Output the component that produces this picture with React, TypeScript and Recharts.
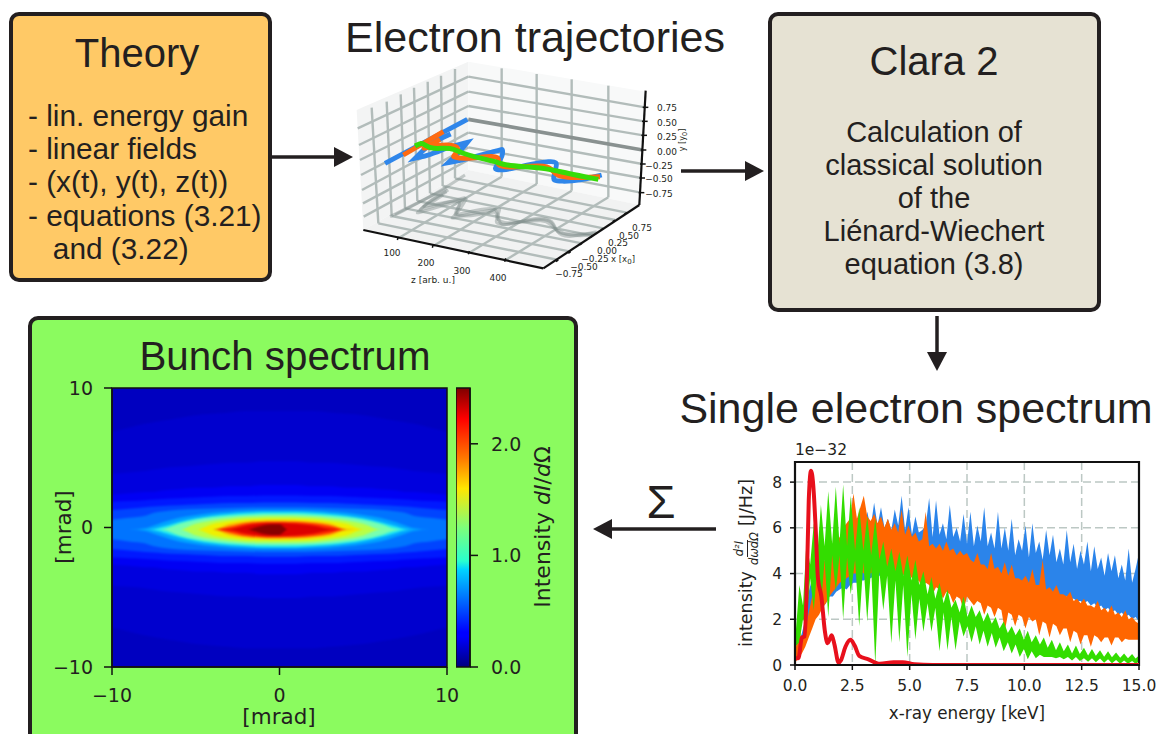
// App.tsx
import { Area, Bar, BarChart, CartesianGrid, ComposedChart, Line, ReferenceArea, XAxis, YAxis } from "recharts";

// ---- Single electron spectrum ----
const spectrumEnergy = [0, 0.15, 0.3, 0.45, 0.6, 0.75, 0.9, 1.05, 1.2, 1.35, 1.5, 1.65, 1.8, 1.95, 2.1, 2.25, 2.4, 2.55, 2.7, 2.85, 3, 3.15, 3.3, 3.45, 3.6, 3.75, 3.9, 4.05, 4.2, 4.35, 4.5, 4.65, 4.8, 4.95, 5.1, 5.25, 5.4, 5.55, 5.7, 5.85, 6, 6.15, 6.3, 6.45, 6.6, 6.75, 6.9, 7.05, 7.2, 7.35, 7.5, 7.65, 7.8, 7.95, 8.1, 8.25, 8.4, 8.55, 8.7, 8.85, 9, 9.15, 9.3, 9.45, 9.6, 9.75, 9.9, 10.05, 10.2, 10.35, 10.5, 10.65, 10.8, 10.95, 11.1, 11.25, 11.4, 11.55, 11.7, 11.85, 12, 12.15, 12.3, 12.45, 12.6, 12.75, 12.9, 13.05, 13.2, 13.35, 13.5, 13.65, 13.8, 13.95, 14.1, 14.25, 14.4, 14.55, 14.7, 14.85, 15];
const blueHigh = [0.5, 0.9, 1.4, 2, 3.2, 3.8, 3.4, 4, 3.8, 4.3, 4.6, 4.4, 4.9, 5, 5.2, 5.4, 5.5, 5.9, 5.7, 6.3,
    5.9, 6.7, 6, 7.1, 6.1, 6.9, 6, 6.4, 5.9, 6.8,
    6.1, 7.4, 5.9, 6.9, 5.7, 6.5, 5.8, 5.9, 6.1, 7.3,
    5.6, 7.2, 5.7, 6.2, 5.5, 7, 5.6, 6, 5.4, 6.6,
    5.3, 6.7, 5.2, 6.1, 5.4, 6.9, 5.2, 5.8, 5.1, 6.7,
    5.1, 6, 5, 6.4, 4.8, 5.5, 5, 6.1, 4.7, 6.2,
    4.9, 5.4, 4.6, 5.9, 4.8, 5.7, 4.5, 5.1, 4.4, 5.9,
    4.5, 5.3, 4.2, 5, 4.4, 5.4, 4.1, 5.2, 4.2, 4.7,
    3.9, 4.9, 4.1, 4.8, 3.8, 4.4, 3.7, 5.1, 3.6, 4.2, 4.9];
const blueLow = [0.2, 0.4, 0.7, 1, 1.9, 2, 2.2, 2.4, 2.5, 2.7, 3, 3, 3.2, 3.3, 3.4, 3.3, 3.5, 3.6, 3.6, 3.7, 3.7, 3.8, 3.8, 3.9, 3.9, 3.9, 3.9, 4, 3.9, 4, 3.9, 4, 3.9, 4, 3.9, 4, 3.9, 4, 3.9, 3.9, 3.9, 3.8, 3.8, 3.8, 3.7, 3.8, 3.7, 3.7, 3.6, 3.7, 3.6, 3.6, 3.5, 3.6, 3.5, 3.5, 3.4, 3.5, 3.4, 3.4, 3.4, 3.4, 3.3, 3.4, 3.3, 3.3, 3.2, 3.3, 3.2, 3.2, 3.1, 3.2, 3.1, 3.1, 3, 3.1, 3, 3, 2.9, 3, 2.9, 2.9, 2.8, 2.8, 2.7, 2.8, 2.6, 2.7, 2.5, 2.6, 2.4, 2.5, 2.3, 2.4, 2.2, 2.3, 2.1, 2.2, 2, 2.1, 1.9];
const orangeHigh = [0.3, 2, 0.9, 1.5, 2.3, 3, 3.9, 4.3, 4.4, 4.7, 5, 5.2, 5.4, 5.6, 6, 6.2, 6.4, 7.5, 6.4, 6.9, 7.4, 6.5, 6.3, 6.6, 6.2, 6.5, 6, 6.4, 5.9, 6.2, 5.8,
    6.8, 5.7, 6.1, 5.6, 5.8, 5.4, 5.5, 6.7, 5.2, 5.3,
    5.1, 5.3, 5, 5.4, 5, 5.1, 4.8, 5, 4.8, 4.9,
    4.6, 4.5, 4.9, 4.4, 4.4, 4.2, 4.9, 4.2, 4.3, 4,
    4.5, 3.9, 4.4, 3.8, 3.8, 3.7, 3.9, 3.6, 4.2, 3.5,
    3.5, 4.6, 3.3, 3.4, 3.2, 3.5, 3.1, 3.1, 3, 3.2,
    2.8, 2.9, 2.7, 2.9, 2.6, 2.6, 2.5, 2.8, 2.4, 2.5,
    2.3, 2.6, 2.2, 2.3, 2.1, 2.4, 2, 2.1, 1.9, 1.8];
const orangeLow = [0.1, 0.3, 0.5, 0.8, 1.2, 1.6, 2, 2.2, 2.5, 2.7, 3, 3.2, 3.4, 3.6, 3.7, 3.8, 3.9, 4, 4, 4.1, 4, 4.1, 4, 4.1, 4, 4.1, 4, 4.1, 4, 4, 4, 4, 3.9, 4, 3.8, 3.6, 3.7, 3.3, 3.6, 3.5, 3.1, 3.4, 3.3, 2.9, 3.2, 3.1, 2.7, 3, 2.9, 2.4, 3, 2.8, 2.6, 2.8, 2.7, 2.2, 2.6, 2.5, 2.1, 2.5, 2.4, 1.5, 2.3, 2.2, 1.7, 2.2, 2.1, 1.6, 2.1, 1.9, 2, 1.3, 1.9, 1.8, 1.2, 1.8, 1.7, 1.3, 1.6, 1.6, 1, 1.5, 1.4, 0.9, 1.3, 1.3, 0.8, 1.3, 1.2, 1, 1.2, 1.2, 0.85, 1.2, 1.2, 1, 1.15, 1.1, 1.1, 1.1, 1.1];

const greenEnergy = [0, 0.19, 0.35, 0.5, 0.66, 0.82, 0.98, 1.13, 1.29, 1.45, 1.62, 1.78, 1.94, 2.1, 2.27, 2.43, 2.62, 2.8, 2.98, 3.15, 3.32, 3.5, 3.68, 3.85, 4.02, 4.2, 4.38, 4.55, 4.72, 4.9, 5.08, 5.25, 5.42, 5.6, 5.78, 5.95, 6.12, 6.3, 6.48, 6.65, 6.82, 7, 7.18, 7.35, 7.52, 7.7, 7.88, 8.05, 8.22, 8.4, 8.58, 8.75, 8.92, 9.1, 9.28, 9.45, 9.62, 9.8, 9.98, 10.15, 10.32, 10.5, 10.68, 10.85, 11.02, 11.2, 11.38, 11.55, 11.72, 11.9, 12.08, 12.25, 12.42, 12.6, 12.78, 12.95, 13.12, 13.3, 13.48, 13.65, 13.82, 14, 14.18, 14.35, 14.52, 14.7, 14.85, 15];
const greenHigh = [1, 3.5, 2.6, 5.4, 4.4, 6.2, 4.9, 7, 5.2, 7.6, 5.3, 7.8, 5.3, 7.9, 5.2, 7.4, 5, 6.9, 5, 6.5, 4.8, 6.4, 4.6, 5.4, 4.3, 5.1, 4.1, 4.95, 3.9, 4.8, 3.7, 4.6, 3.5, 4.1, 3.1, 3.85, 2.9, 3.6, 2.7, 3.3, 2.5, 2.85, 2.3, 3, 2.1, 2.6, 2.1, 2.4, 1.9, 2.3, 1.8, 2.1, 1.6, 1.9, 1.4, 1.7, 1.3, 1.6, 1.1, 1.5, 1, 1.3, 0.9, 1.2, 0.75, 1.1, 0.65, 1, 0.6, 0.9, 0.5, 0.85, 0.48, 0.75, 0.42, 0.7, 0.4, 0.65, 0.36, 0.6, 0.34, 0.55, 0.32, 0.5, 0.3, 0.48, 0.28, 0.42];
const greenLow = [0.8, 1, 2, 1.7, 3.8, 2.4, 4.4, 2.5, 4.6, 2.1, 4.8, 3.2, 4.8, 2, 4.7, 3.1, 4.6, 1.7, 4.5, 1.9, 4.3, 0, 4.1, 2.4, 3.9, 0.95, 3.7, 1, 3.5, 0.35, 3.1, 1.1, 2.9, 1.45, 2.7, 1.45, 2.5, 0.6, 2.3, 0.65, 2.1, 0.65, 1.9, 1.25, 1.7, 1, 1.7, 0.9, 1.5, 0.8, 1.4, 0.75, 1.2, 0.6, 1, 0.5, 0.9, 0.35, 0.7, 0.25, 0.6, 0.3, 0.45, 0.35, 0.35, 0.35, 0.3, 0.35, 0.25, 0.35, 0.2, 0.35, 0.18, 0.3, 0.14, 0.3, 0.12, 0.28, 0.1, 0.25, 0.08, 0.22, 0.06, 0.2, 0.05, 0.18, 0.05, 0.15];

const redEnergy = [0, 0.15, 0.3, 0.42, 0.5, 0.6, 0.7, 0.8, 0.9, 1, 1.15, 1.3, 1.42, 1.5, 1.6, 1.72, 1.9, 2, 2.2, 2.42, 2.6, 2.8, 3.2, 3.7, 4.3, 4.7, 5.2, 6, 8, 15];
const redIntensity = [0.3, 0.3, 1.2, 1.25, 3, 7.2, 8.5, 7.8, 6, 3.8, 3, 1.5, 0.95, 1.1, 1.3, 0.9, 0.1, 0.2, 0.8, 1.1, 0.85, 0.4, 0.25, 0.05, 0.12, 0.12, 0.03, 0, 0, 0];

const spectrumRows = spectrumEnergy.map((energy, i) => ({ energy, blue: [blueLow[i], blueHigh[i]], orange: [orangeLow[i], orangeHigh[i]] }));
const greenRows = greenEnergy.map((energy, i) => ({ energy, green: [greenLow[i], greenHigh[i]] }));
const redRows = redEnergy.map((energy, i) => ({ energy, red: redIntensity[i] }));
const energyTicks = [0, 2.5, 5, 7.5, 10, 12.5, 15];
const intensityTicks = [0, 2, 4, 6, 8];

// ---- Bunch spectrum: half heights in mrad of each intensity contour ----
const heatAngle = [-10, -9, -8, -7.5, -7, -6, -5, -4, -3, -2, -1, -0.5, 0, 0.5, 1, 2, 3, 4, 5, 6, 7, 7.5, 8, 9, 10];
const heatCenter = -0.15;
const contourBg1 = [7, 7.3, 7.6, 7.7, 7.8, 8, 8.2, 8.3, 8.4, 8.5, 8.5, 8.5, 8.5, 8.5, 8.5, 8.5, 8.4, 8.3, 8.2, 8, 7.8, 7.7, 7.6, 7.3, 7];
const contourBg2 = [4, 4.1, 4.2, 4.3, 4.4, 4.5, 4.6, 4.7, 4.8, 4.8, 4.9, 4.9, 4.9, 4.9, 4.9, 4.8, 4.8, 4.7, 4.6, 4.5, 4.4, 4.3, 4.2, 4.1, 4];
const contourBlue1 = [2.5, 2.6, 2.7, 2.7, 2.8, 2.9, 3, 3, 3.1, 3.1, 3.2, 3.2, 3.2, 3.2, 3.2, 3.1, 3.1, 3, 3, 2.9, 2.8, 2.7, 2.7, 2.6, 2.5];
const contourBlue2 = [2, 2.05, 2.1, 2.15, 2.2, 2.25, 2.3, 2.35, 2.4, 2.4, 2.45, 2.45, 2.45, 2.45, 2.45, 2.4, 2.4, 2.35, 2.3, 2.25, 2.2, 2.15, 2.1, 2.05, 2];
const contourBlue3 = [1.4, 1.5, 1.6, 1.65, 1.7, 1.75, 1.8, 1.85, 1.9, 1.9, 1.95, 1.95, 1.95, 1.95, 1.95, 1.9, 1.9, 1.85, 1.8, 1.75, 1.7, 1.65, 1.6, 1.5, 1.4];
const contourBlue4 = [0.7, 0.85, 1, 1.2, 1.3, 1.42, 1.48, 1.52, 1.55, 1.58, 1.6, 1.6, 1.6, 1.6, 1.6, 1.58, 1.55, 1.52, 1.48, 1.42, 1.3, 1.2, 1, 0.85, 0.7];
const contourBlue5 = [0, 0, 0.1, 0.3, 0.5, 0.85, 1.05, 1.2, 1.3, 1.36, 1.4, 1.4, 1.4, 1.4, 1.4, 1.36, 1.3, 1.2, 1.05, 0.85, 0.5, 0.3, 0.1, 0, 0];
const contourCyan = [0, 0, 0, 0.04, 0.2, 0.55, 0.82, 1, 1.12, 1.2, 1.26, 1.27, 1.27, 1.27, 1.26, 1.2, 1.12, 1, 0.82, 0.55, 0.22, 0.04, 0, 0, 0];
const contourMint = [0, 0, 0, 0, 0.03, 0.42, 0.7, 0.88, 1, 1.07, 1.11, 1.12, 1.12, 1.12, 1.11, 1.07, 1, 0.88, 0.7, 0.42, 0.04, 0, 0, 0, 0];
const contourLime = [0, 0, 0, 0, 0, 0, 0.42, 0.66, 0.8, 0.9, 0.94, 0.95, 0.95, 0.95, 0.94, 0.9, 0.8, 0.66, 0.42, 0.02, 0, 0, 0, 0, 0];
const contourYellow = [0, 0, 0, 0, 0, 0, 0, 0.4, 0.6, 0.72, 0.77, 0.78, 0.78, 0.78, 0.77, 0.72, 0.6, 0.42, 0.02, 0, 0, 0, 0, 0, 0];
const contourOrange = [0, 0, 0, 0, 0, 0, 0, 0, 0.38, 0.56, 0.64, 0.66, 0.66, 0.66, 0.64, 0.56, 0.42, 0.04, 0, 0, 0, 0, 0, 0, 0];
const contourRed = [0, 0, 0, 0, 0, 0, 0, 0, 0.2, 0.46, 0.54, 0.56, 0.56, 0.55, 0.54, 0.46, 0.28, 0, 0, 0, 0, 0, 0, 0, 0];
const contourCrimson = [0, 0, 0, 0, 0, 0, 0, 0, 0.04, 0.3, 0.46, 0.48, 0.48, 0.46, 0.42, 0.3, 0.06, 0, 0, 0, 0, 0, 0, 0, 0];
const contourDark = [0, 0, 0, 0, 0, 0, 0, 0, 0, 0, 0.3, 0.38, 0.38, 0, 0, 0, 0, 0, 0, 0, 0, 0, 0, 0, 0];
const heatContours: [string, number[]][] = [
    ["#0000ce", contourBg1],
    ["#0000de", contourBg2],
    ["#0000f4", contourBlue1],
    ["#0018ff", contourBlue2],
    ["#0044ff", contourBlue3],
    ["#0074ff", contourBlue4],
    ["#00a4ff", contourBlue5],
    ["#22eaf0", contourCyan],
    ["#78ffb0", contourMint],
    ["#b8ff48", contourLime],
    ["#eef000", contourYellow],
    ["#ffa800", contourOrange],
    ["#ff3000", contourRed],
    ["#dc0000", contourCrimson],
    ["#880000", contourDark],
];
const heatRows = heatAngle.map((angle, i) => {
    const row: Record<string, any> = { angle };
    heatContours.forEach(([color, half]) => { row[color] = [heatCenter - half[i], heatCenter + half[i]]; });
    return row;
});
const angleTicks = [-10, 0, 10];
const colorbarRows = [{ name: "intensity", top: 2.5 }];
const colorbarTicks = [0, 1, 2];
const jetStops: [number, string][] = [[0, "#00007f"], [0.11, "#0000ff"], [0.125, "#0000ff"], [0.35, "#00d4ff"], [0.38, "#29ffce"], [0.5, "#7dff7a"], [0.64, "#ffe600"], [0.75, "#ff7700"], [0.89, "#ff0000"], [1, "#7f0000"]];

// ---- Electron trajectories: projected picture coordinates of the 3d plot ----
type P = [number, number];
const paneLeft: [number, number, number][] = [[50, 150, 150], [70, 141, 510], [385, 5, 330]];
const paneBack: [number, number, number][] = [[385, 5, 330], [900, 92, 435], [915, 95, 95]];
const paneFloor: [number, number, number][] = [[70, 510, 510], [385, 330, 577], [610, 376, 625], [900, 435, 435]];
const gridLeftVertical: P[][] = [[[95, 143], [115, 490]], [[140, 125], [155, 468]], [[182, 103], [195, 445]], [[222, 83], [232, 423]], [[263, 65], [270, 400]], [[303, 47], [308, 378]], [[345, 27], [345, 355]]];
const gridLeftHorizontal: P[][] = [[[53, 205], [385, 50]], [[57, 255], [385, 95]], [[60, 300], [385, 138]], [[63, 345], [385, 178]], [[66, 390], [385, 218]], [[69, 430], [385, 262]], [[71, 470], [385, 300]]];
const gridBackVertical: P[][] = [[[485, 25], [485, 350]], [[590, 42], [590, 372]], [[695, 58], [695, 392]], [[805, 77], [805, 412]]];
const gridBackHorizontal: P[][] = [[[385, 50], [915, 142]], [[385, 95], [912, 184]], [[385, 138], [910, 226]], [[385, 218], [907, 312]], [[385, 262], [905, 354]], [[385, 300], [903, 398]]];
const gridFloor: P[][] = [[[485, 350], [175, 535]], [[590, 372], [280, 558]], [[695, 392], [388, 578]], [[805, 412], [497, 600]], [[115, 490], [655, 600]], [[155, 468], [692, 575]], [[195, 445], [726, 550]], [[232, 423], [758, 527]], [[270, 400], [790, 505]], [[308, 378], [825, 480]], [[345, 355], [860, 458]]];
const projectedAxis: P[] = [[385, 178], [908, 270]];
const axes3d: P[][] = [[[917, 92], [898, 435]], [[70, 510], [610, 625]], [[610, 625], [898, 435]]];
const axisTicks3d: P[][] = [[[908, 142], [925, 142]], [[906, 184], [923, 184]], [[904, 226], [921, 226]], [[902, 270], [919, 270]], [[900, 312], [917, 312]], [[898, 354], [915, 354]], [[896, 398], [913, 398]], [[175, 530], [172, 540]], [[280, 553], [277, 563]], [[388, 573], [385, 583]], [[497, 595], [494, 605]], [[655, 600], [648, 605]], [[692, 575], [685, 580]], [[726, 550], [719, 555]], [[758, 527], [751, 532]], [[790, 505], [783, 510]], [[825, 480], [818, 485]], [[860, 458], [853, 463]]];

const blueDiagonal: P[] = [[135, 310], [382, 178]];
const blueTrack: P[] = [[332, 222], [270, 250], [225, 295], [225, 295], [225, 295], [270, 285], [330, 260], [382, 247], [382, 247], [382, 247], [355, 280], [325, 308], [325, 308], [325, 308], [380, 298], [470, 272], [487, 268], [487, 268], [490, 285], [465, 325], [465, 328], [490, 332], [560, 315], [635, 302], [650, 308], [650, 315], [640, 355], [640, 360], [660, 365], [720, 362], [785, 345]];
const orangeDiagonal: P[] = [[190, 285], [310, 215]];
const orangeTrack: P[] = [[300, 238], [250, 265], [250, 265], [295, 255], [345, 255], [358, 268], [340, 290], [340, 290], [370, 298], [470, 285], [478, 300], [470, 315], [500, 325], [630, 312], [640, 340], [670, 355], [780, 350]];
const greenTrack: P[] = [[225, 258], [245, 248], [255, 255], [275, 268], [335, 262], [360, 278], [420, 295], [470, 305], [490, 315], [550, 320], [620, 325], [680, 340], [775, 358]];
const shadowTracks: P[][] = [
    [[150, 470], [320, 385]],
    [[165, 465], [300, 395], [375, 345]],
    [[325, 390], [270, 420], [230, 460], [230, 460], [300, 440], [380, 415], [380, 415], [360, 450], [335, 475], [335, 475], [400, 460], [480, 445], [480, 445], [470, 480], [465, 490], [500, 495], [560, 480], [635, 475], [645, 510], [660, 525], [770, 520]],
    [[320, 395], [260, 430], [240, 450], [240, 450], [310, 430], [375, 412], [375, 412], [350, 445], [345, 465], [345, 465], [410, 450], [470, 440], [475, 470], [480, 500], [520, 490], [600, 470], [640, 480], [650, 520], [680, 535], [770, 515]],
    [[310, 405], [280, 425], [250, 440], [250, 440], [320, 425], [370, 420], [345, 460], [355, 470], [420, 465], [475, 450], [465, 475], [490, 490], [540, 488], [610, 478], [635, 495], [640, 505], [690, 530], [760, 525]],
];

const yTicks3d = [["0.75", 108], ["0.50", 123], ["0.25", 137], ["0.00", 152], ["\u22120.25", 166], ["\u22120.50", 179], ["\u22120.75", 194]];
const zTicks3d = [["100", 392, 253], ["200", 426, 263], ["300", 462, 271], ["400", 498, 278]];
const xTicks3d = [["0.75", 642, 228], ["0.50", 629, 236], ["0.25", 618, 243], ["0.00", 607, 251], ["\u22120.25", 595, 259], ["\u22120.50", 584, 267], ["\u22120.75", 569, 274]];

const theoryLines = ["- lin. energy gain", "- linear fields", "- (x(t), y(t), z(t))", "- equations (3.21)", "   and (3.22)"];
const claraLines = ["Calculation of", "classical solution", "of the", "Li\u00e9nard-Wiechert", "equation (3.8)"];

const SANS = "'Liberation Sans', Arial, sans-serif";
const DEJAVU = "'DejaVu Sans', sans-serif";
const INK = "#231f20";

function Txt({ x, y, size, font = SANS, rotate = 0, children }: any) {
    return (
        <div style={{
            position: "absolute", left: x, top: y, fontFamily: font, fontSize: size, color: INK, whiteSpace: "pre",
            lineHeight: 1, transform: `translate(-50%, -50%) rotate(${rotate}deg)`,
        }}>{children}</div>
    );
}

function Box({ left, top, width, height, fill }: any) {
    return <div style={{ position: "absolute", left, top, width, height, background: fill, border: `4px solid ${INK}`, borderRadius: 10, boxSizing: "border-box" }} />;
}

function Track({ points, stroke, width, curve = "linear", opacity = 1 }: any) {
    return (
        <Line data={points.map(([u, v]: P) => ({ u, v }))} dataKey="v" stroke={stroke} strokeWidth={width} strokeOpacity={opacity}
            type={curve} dot={false} activeDot={false} isAnimationActive={false} legendType="none" strokeLinecap="butt" />
    );
}

function Pane({ rows, fill }: any) {
    return (
        <Area data={rows.map(([u, a, b]: number[]) => ({ u, span: [a, b] }))} dataKey="span" type="linear" stroke="none" fill={fill} fillOpacity={1}
            dot={false} activeDot={false} isAnimationActive={false} />
    );
}

function Trajectories() {
    return (
        <div style={{ position: "absolute", left: 340, top: 60 }}>
            <ComposedChart width={340} height={240} margin={{ top: 0, right: 0, bottom: 0, left: 0 }}>
                <XAxis dataKey="u" type="number" domain={[0, 1020]} hide allowDuplicatedCategory />
                <YAxis type="number" domain={[0, 720]} reversed hide />
                {Pane({ rows: paneLeft, fill: "#f3f4f4" })}
                {Pane({ rows: paneBack, fill: "#f8f9f9" })}
                {Pane({ rows: paneFloor, fill: "#f1f2f2" })}
                {[...gridLeftVertical, ...gridLeftHorizontal, ...gridBackVertical, ...gridBackHorizontal, ...gridFloor].map((points, i) => (
                    <Track key={`g${i}`} points={points} stroke="#b2bcba" width={2.4} />
                ))}
                {shadowTracks.map((points, i) => (
                    <Track key={`s${i}`} points={points} stroke="#7f8c8a" width={3} curve="basis" opacity={0.42} />
                ))}
                <Track points={projectedAxis} stroke="#899190" width={3.8} />
                {axes3d.map((points, i) => <Track key={`a${i}`} points={points} stroke="#111111" width={2.2} />)}
                {axisTicks3d.map((points, i) => <Track key={`t${i}`} points={points} stroke="#111111" width={1.5} />)}
                <Track points={blueDiagonal} stroke="#2f86ea" width={4.8} />
                <Track points={blueTrack} stroke="#2f86ea" width={4.8} curve="basis" />
                <Track points={orangeDiagonal} stroke="#ff6a10" width={4.8} />
                <Track points={orangeTrack} stroke="#ff6a10" width={5} curve="basis" />
                <Track points={greenTrack} stroke="#36dc08" width={5} curve="basis" />
            </ComposedChart>
        </div>
    );
}

function BunchHeatmap() {
    return (
        <>
            <div style={{ position: "absolute", left: 112, top: 388, width: 335, height: 279, overflow: "hidden", background: "#0000c0" }}>
                <div style={{ filter: "blur(1px)" }}>
                    <ComposedChart width={335} height={279} data={heatRows} margin={{ top: 0, right: 0, bottom: 0, left: 0 }}>
                        <XAxis dataKey="angle" type="number" domain={[-10, 10]} hide allowDataOverflow />
                        <YAxis type="number" domain={[-10, 10]} hide allowDataOverflow />
                        {heatContours.map(([color]) => (
                            <Area key={color} dataKey={color} type="monotone" stroke="none" fill={color} fillOpacity={1}
                                dot={false} activeDot={false} isAnimationActive={false} />
                        ))}
                    </ComposedChart>
                </div>
            </div>
            <div style={{ position: "absolute", left: 50, top: 378 }}>
                <ComposedChart width={410} height={350} data={heatRows} margin={{ top: 10, right: 13, bottom: 0, left: 0 }}>
                    <XAxis dataKey="angle" type="number" domain={[-10, 10]} ticks={angleTicks} height={61} interval={0} allowDataOverflow
                        tickFormatter={(v) => String(v).replace("-", "\u2212")} tick={{ fill: INK, fontSize: 19, fontFamily: DEJAVU }}
                        tickSize={8} tickLine={{ stroke: "#111", strokeWidth: 1.5 }} axisLine={{ stroke: "#111", strokeWidth: 1.5 }} tickMargin={14} />
                    <YAxis type="number" domain={[-10, 10]} ticks={angleTicks} width={62} interval={0} allowDataOverflow
                        tickFormatter={(v) => String(v).replace("-", "\u2212")} tick={{ fill: INK, fontSize: 19, fontFamily: DEJAVU }}
                        tickSize={8} tickLine={{ stroke: "#111", strokeWidth: 1.5 }} axisLine={{ stroke: "#111", strokeWidth: 1.5 }} tickMargin={11} />
                    <ReferenceArea x1={-10} x2={10} y1={-10} y2={10} fill="none" stroke="#111" strokeWidth={1.5} />
                </ComposedChart>
            </div>
        </>
    );
}

function Colorbar() {
    return (
        <div style={{ position: "absolute", left: 456, top: 378 }}>
            <BarChart width={100} height={350} data={colorbarRows} barCategoryGap={0} margin={{ top: 10, right: 0, bottom: 61, left: 0 }}>
                <defs>
                    <linearGradient id="jet" x1="0" y1="1" x2="0" y2="0">
                        {jetStops.map(([offset, color]) => <stop key={offset} offset={offset} stopColor={color} />)}
                    </linearGradient>
                </defs>
                <XAxis dataKey="name" hide />
                <YAxis orientation="right" type="number" domain={[0, 2.5]} ticks={colorbarTicks} width={86} interval={0}
                    tickFormatter={(v) => v.toFixed(1)} tick={{ fill: INK, fontSize: 19, fontFamily: DEJAVU }}
                    tickSize={8} tickLine={{ stroke: "#111", strokeWidth: 1.5 }} axisLine={{ stroke: "#111", strokeWidth: 1.5 }} tickMargin={13} />
                <Bar dataKey="top" fill="url(#jet)" stroke="#111" strokeWidth={1.5} isAnimationActive={false} />
            </BarChart>
        </div>
    );
}

function ElectronSpectrum() {
    return (
        <div style={{ position: "absolute", left: 750, top: 450 }}>
            <style>{".soft-band { filter: blur(0.5px); }"}</style>
            <ComposedChart width={407} height={284} data={spectrumRows} margin={{ top: 12, right: 18, bottom: 0, left: 0 }}>
                <CartesianGrid stroke="#bcc8c4" strokeWidth={1.5} strokeDasharray="8 4" />
                <XAxis dataKey="energy" type="number" domain={[0, 15]} ticks={energyTicks} height={69} interval={0} allowDataOverflow
                    tickFormatter={(v) => v.toFixed(1)} tick={{ fill: INK, fontSize: 15.5, fontFamily: DEJAVU }}
                    tickSize={5} tickLine={{ stroke: "#111", strokeWidth: 1.5 }} axisLine={{ stroke: "#111", strokeWidth: 2 }} tickMargin={10}
                    label={{ value: "x-ray energy [keV]", position: "insideBottom", offset: 15, fill: INK, fontSize: 16.8, fontFamily: DEJAVU }} />
                <YAxis type="number" domain={[0, 8.88]} ticks={intensityTicks} width={45} interval={0} allowDataOverflow
                    tick={{ fill: INK, fontSize: 15.5, fontFamily: DEJAVU }}
                    tickSize={5} tickLine={{ stroke: "#111", strokeWidth: 1.5 }} axisLine={{ stroke: "#111", strokeWidth: 2 }} tickMargin={8} />
                <Area className="soft-band" dataKey="blue" type="linear" stroke="none" fill="#2b84ea" fillOpacity={1} dot={false} activeDot={false} isAnimationActive={false} />
                <Area className="soft-band" dataKey="orange" type="linear" stroke="none" fill="#ff6600" fillOpacity={1} dot={false} activeDot={false} isAnimationActive={false} />
                <Area className="soft-band" data={greenRows} dataKey="green" type="linear" stroke="none" fill="#33dd00" fillOpacity={1} dot={false} activeDot={false} isAnimationActive={false} />
                <Line data={redRows} dataKey="red" type="monotone" stroke="#e8101c" strokeWidth={4} dot={false} activeDot={false} isAnimationActive={false} />
                <ReferenceArea x1={0} x2={15} y1={0} y2={8.88} fill="none" stroke="#111" strokeWidth={2.2} />
            </ComposedChart>
        </div>
    );
}

function Arrows() {
    return (
        <svg width={1157} height={734} style={{ position: "absolute", left: 0, top: 0 }}>
            <g fill={INK} stroke={INK}>
                <line x1={272} y1={157} x2={340} y2={157} strokeWidth={3.5} />
                <polygon points="353,157 334,147 334,167" stroke="none" />
                <line x1={681} y1={171} x2={750} y2={171} strokeWidth={3.5} />
                <polygon points="764,171 745,161 745,181" stroke="none" />
                <line x1={937} y1={316} x2={937} y2={358} strokeWidth={3.5} />
                <polygon points="937,371 927,352 947,352" stroke="none" />
                <line x1={716} y1={529} x2={606} y2={529} strokeWidth={3.5} />
                <polygon points="593,529 612,519 612,539" stroke="none" />
            </g>
        </svg>
    );
}

export default function App() {
    return (
        <div style={{ position: "absolute", left: 0, top: 0, width: 1157, height: 734, overflow: "hidden", background: "#fff" }}>
            <Box left={9} top={12} width={263} height={270} fill="#ffc966" />
            <Box left={768} top={12} width={333} height={300} fill="#e6e2d3" />
            <Box left={28} top={316} width={550} height={430} fill="#8bfb5f" />
            <Arrows />

            <Txt x={137} y={53} size={40}>Theory</Txt>
            {theoryLines.map((line, i) => (
                <div key={line} style={{ position: "absolute", left: 28, top: 101 + i * 33.2, fontFamily: SANS, fontSize: 29.8, lineHeight: 1, color: INK, whiteSpace: "pre" }}>{line}</div>
            ))}

            <Txt x={535} y={37} size={43}>Electron trajectories</Txt>
            <Trajectories />
            {yTicks3d.map(([label, y]) => <Txt key={label} x={label.length > 4 ? 659 : 667} y={y} size={9} font={DEJAVU}>{label}</Txt>)}
            <Txt x={684} y={140} size={8} font={DEJAVU} rotate={-90}>y [y<sub>0</sub>]</Txt>
            {zTicks3d.map(([label, x, y]) => <Txt key={label} x={x} y={y} size={9} font={DEJAVU}>{label}</Txt>)}
            <Txt x={433} y={280} size={9} font={DEJAVU}>z [arb. u.]</Txt>
            {xTicks3d.map(([label, x, y]) => <Txt key={label} x={x} y={y} size={9} font={DEJAVU}>{label}</Txt>)}
            <Txt x={623} y={260} size={8.5} font={DEJAVU}>x [x<sub>0</sub>]</Txt>

            <Txt x={934} y={61} size={40}>Clara 2</Txt>
            {claraLines.map((line, i) => <Txt key={line} x={934} y={132 + i * 33} size={29}>{line}</Txt>)}

            <Txt x={285} y={357} size={40.3}>Bunch spectrum</Txt>
            <BunchHeatmap />
            <Colorbar />
            <Txt x={64} y={527} size={21.5} font={DEJAVU} rotate={-90}>[mrad]</Txt>
            <Txt x={279} y={717} size={21.5} font={DEJAVU}>[mrad]</Txt>
            <Txt x={543} y={527} size={22} font={DEJAVU} rotate={-90}>Intensity <i>dI</i>/<i>d</i>Ω</Txt>

            <Txt x={661} y={501} size={47} font={SANS}>Σ</Txt>
            <Txt x={916} y={408} size={43}>Single electron spectrum</Txt>
            <ElectronSpectrum />
            <Txt x={821} y={451} size={15.5} font={DEJAVU}>1e−32</Txt>
            <Txt x={747} y={563} size={17.5} font={DEJAVU} rotate={-90}>
                <span style={{ display: "inline-flex", alignItems: "center", gap: 3 }}>
                    intensity
                    <span style={{ display: "inline-flex", flexDirection: "column", alignItems: "center", fontSize: 11.5, fontStyle: "italic", margin: "0 3px" }}>
                        <span style={{ borderBottom: `1px solid ${INK}`, padding: "0 1px 1px" }}>d²I</span>
                        <span style={{ paddingTop: 1 }}>dωdΩ</span>
                    </span>
                    [J/Hz]
                </span>
            </Txt>
        </div>
    );
}
